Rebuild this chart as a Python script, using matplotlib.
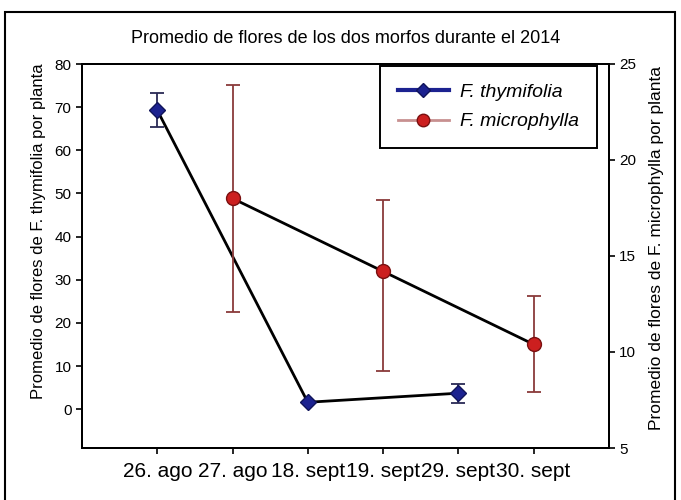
import matplotlib
matplotlib.use('Agg')
import matplotlib.pyplot as plt
from matplotlib.lines import Line2D
from matplotlib.patches import Rectangle

plt.rcParams['font.family'] = ['Liberation Sans', 'DejaVu Sans']

# Datos
fechas = ['26. ago', '27. ago', '18. sept', '19. sept', '29. sept', '30. sept']

thym_idx = [0, 2, 4]
thym_media = [69.3, 1.6, 3.7]
thym_err = [3.9, 0.0, 2.2]

micro_idx = [1, 3, 5]
micro_media = [18.0, 14.2, 10.4]
micro_err_abajo = [5.9, 5.2, 2.5]
micro_err_arriba = [5.9, 3.7, 2.5]

fig = plt.figure(figsize=(6.81, 5), dpi=100)
ax = fig.add_axes([0.1204, 0.104, 0.7736, 0.768])
ax2 = ax.twinx()

x = list(range(1, len(fechas) + 1))
tx = [x[i] for i in thym_idx]
mx = [x[i] for i in micro_idx]

# F. thymifolia (eje izquierdo)
ax.plot(tx, thym_media, color='black', lw=2, zorder=2)
ax.errorbar(tx, thym_media, yerr=thym_err, fmt='none', ecolor='#2a2a55',
            elinewidth=1.3, capsize=5, capthick=1.3, zorder=3)
ax.plot(tx, thym_media, ls='none', marker='D', ms=8, color='#1c2290',
        mec='#10145a', zorder=4)

# F. microphylla (eje derecho)
ax2.plot(mx, micro_media, color='black', lw=2, zorder=2)
ax2.errorbar(mx, micro_media, yerr=[micro_err_abajo, micro_err_arriba], fmt='none',
             ecolor='#8a3a3a', elinewidth=1.3, capsize=5, capthick=1.3, zorder=3)
ax2.plot(mx, micro_media, ls='none', marker='o', ms=10, color='#cc1f1f',
         mec='#7a1010', zorder=4)

ax.set_xlim(0, len(fechas) + 1)
ax.set_xticks(x)
ax.set_xticklabels(fechas, fontsize=15)
ax.set_ylim(-9, 80)
ax.set_yticks(range(0, 81, 10))
ax2.set_ylim(5, 25)
ax2.set_yticks(range(5, 26, 5))

for a in (ax, ax2):
    for s in a.spines.values():
        s.set_linewidth(1.4)
    a.tick_params(direction='out', length=4, width=1.2, labelsize=11)
ax.tick_params(axis='x', labelsize=15, pad=6)

ax.set_ylabel('Promedio de flores de F. thymifolia por planta', fontsize=12)
ax.yaxis.set_label_coords(-0.068, 0.565)
ax2.set_ylabel('Promedio de flores de F. microphylla por planta', fontsize=12.5)
ax2.yaxis.set_label_coords(1.076, 0.52)
ax.set_title('Promedio de flores de los dos morfos durante el 2014', fontsize=13, pad=15)

handles = [
    Line2D([], [], color='#1c2290', lw=3, marker='D', ms=7, mec='#10145a'),
    Line2D([], [], color='#c89090', lw=2, marker='o', ms=9, mfc='#cc1f1f', mec='#7a1010'),
]
leg = ax2.legend(handles, ['F. thymifolia', 'F. microphylla'], loc='upper right',
                 bbox_to_anchor=(0.977, 0.995), borderaxespad=0,
                 prop={'style': 'italic', 'size': 14},
                 fancybox=False, edgecolor='black', handlelength=2.6,
                 handletextpad=0.6, borderpad=0.9, labelspacing=0.6)
leg.get_frame().set_linewidth(1.4)
leg.get_frame().set_alpha(1)

# marco exterior
fig.patches.append(Rectangle((5 / 681, -0.01), 670 / 681, 1 - 12 / 500 + 0.01,
                             transform=fig.transFigure, fill=False,
                             edgecolor='black', lw=1.5))

fig.savefig('out.png', dpi=100)
